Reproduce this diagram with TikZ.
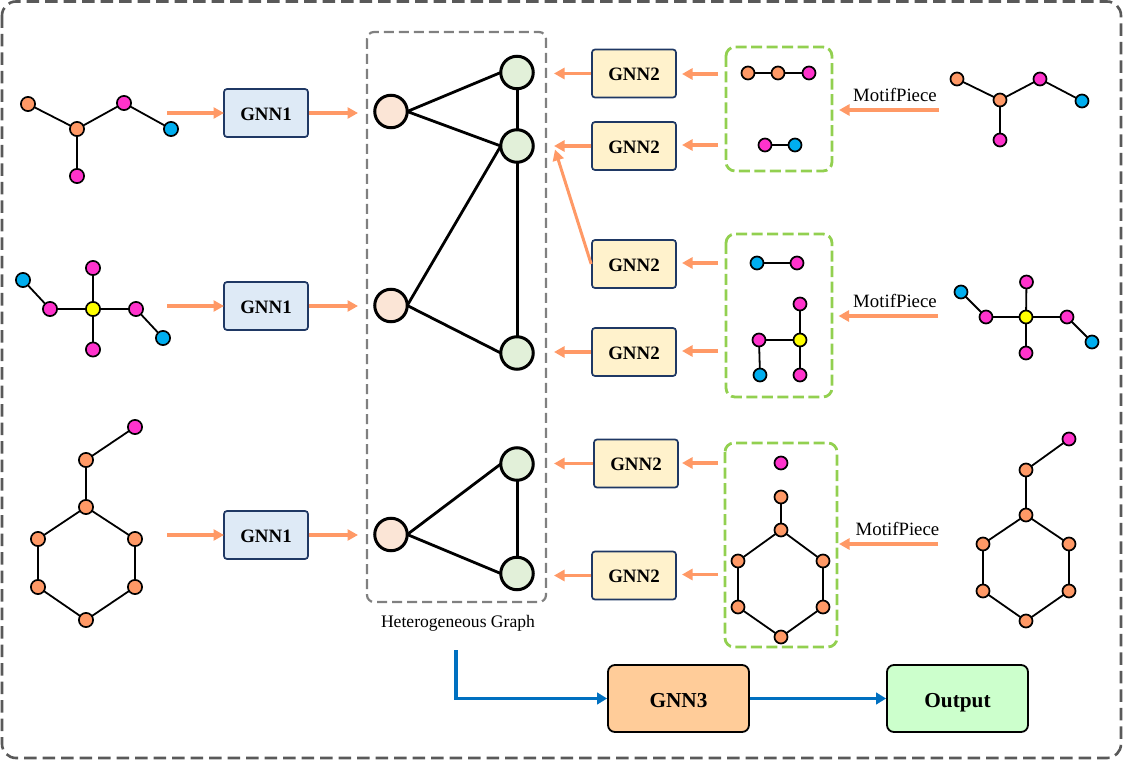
\documentclass[tikz,border=0pt]{standalone}
\usepackage{fontspec}
\setmainfont{Liberation Serif}
\usetikzlibrary{arrows.meta}
\definecolor{aorange}{HTML}{FF9966}
\definecolor{amag}{HTML}{FF33CC}
\definecolor{ablue}{HTML}{00AEEF}
\definecolor{ayel}{HTML}{FFFF00}
\definecolor{boxline}{HTML}{1F3864}
\definecolor{hp}{HTML}{FBE5D6}
\definecolor{hg}{HTML}{E2F0D9}
\definecolor{hb}{HTML}{DEEAF6}
\definecolor{hy}{HTML}{FFF2CC}
\definecolor{bluearrow}{HTML}{0070C0}
\definecolor{motifgreen}{HTML}{92D050}
\definecolor{gthree}{HTML}{FFCC99}
\definecolor{goutput}{HTML}{CCFFCC}
\tikzset{
  atomo/.style={circle,draw=black,line width=1.7pt,minimum size=14.2pt,inner sep=0pt,outer sep=0pt,fill=aorange},
  atomm/.style={atomo,fill=amag},
  atomb/.style={atomo,fill=ablue},
  atomy/.style={atomo,fill=ayel},
  so/.style={atomo,minimum size=13pt},
  sm/.style={atomm,minimum size=13pt},
  sb/.style={atomb,minimum size=13pt},
  sy/.style={atomy,minimum size=13pt},
  bond/.style={draw=black,line width=1.8pt},
  hpink/.style={circle,draw=black,line width=3pt,minimum size=32.5pt,inner sep=0pt,outer sep=0pt,fill=hp},
  hgreen/.style={hpink,fill=hg},
  hedge/.style={draw=black,line width=2.8pt},
  vedge/.style={draw=black,line width=3pt},
  gnnone/.style={draw=boxline,line width=1.7pt,rounded corners=3pt,fill=hb,minimum width=84pt,minimum height=48pt,inner sep=0pt,text height=14.4pt,text depth=0pt,font=\fontsize{18.9pt}{20pt}\selectfont\bfseries},
  gnntwo/.style={gnnone,fill=hy},
  bigbox/.style={draw=black,line width=1.8pt,rounded corners=7pt,minimum width=141pt,minimum height=67pt,inner sep=0pt,text height=17pt,text depth=0pt,font=\fontsize{21.3pt}{23pt}\selectfont\bfseries},
  oarrow/.style={draw=aorange,line width=3.5pt,-{Triangle[length=10.5pt,width=11pt]}},
  oarrowthin/.style={draw=aorange,line width=3pt,-{Triangle[length=11pt,width=11pt]}},
  barrow/.style={draw=bluearrow,line width=3.8pt,-{Triangle[length=10pt,width=11.5pt]}},
  motifbox/.style={draw=motifgreen,line width=2.8pt,dash pattern=on 11pt off 4.5pt,rounded corners=9pt},
  lab/.style={inner sep=0pt,font=\fontsize{18.8pt}{21pt}\selectfont},
}
\begin{document}
\begin{tikzpicture}[x=1pt,y=-1pt]
\useasboundingbox (0,0) rectangle (1125,762);
% frames
\draw[draw=black!65,line width=2.6pt,dash pattern=on 12.5pt off 6pt,rounded corners=14pt] (2,1.5) rectangle (1121,758);
\draw[draw=black!50,line width=2.2pt,dash pattern=on 10pt off 5pt,rounded corners=7pt] (367,32) rectangle (546,602);
\draw[motifbox] (726,47) rectangle (832,171);
\draw[motifbox] (726,234) rectangle (832,397);
\draw[motifbox] (725,443) rectangle (837,647);

% left molecule 1
\node[atomo] (la1) at (28,104) {};
\node[atomo] (la2) at (77,129) {};
\node[atomm] (la3) at (124,103) {};
\node[atomb] (la4) at (171,129) {};
\node[atomm] (la5) at (77,176) {};
\draw[bond] (la1)--(la2) (la2)--(la3) (la3)--(la4) (la2)--(la5);
% left molecule 2
\node[atomy] (lb0) at (93,309) {};
\node[atomb] (lb1) at (23,280) {};
\node[atomm] (lb2) at (50,309) {};
\node[atomm] (lb3) at (93,268) {};
\node[atomm] (lb4) at (136,309) {};
\node[atomb] (lb5) at (163,338) {};
\node[atomm] (lb6) at (93,349.5) {};
\draw[bond] (lb1)--(lb2) (lb2)--(lb0) (lb3)--(lb0) (lb0)--(lb4) (lb4)--(lb5) (lb0)--(lb6);
% left molecule 3
\node[atomm] (lc1) at (135,427) {};
\node[atomo] (lc2) at (86,460) {};
\node[atomo] (lc3) at (86,507) {};
\node[atomo] (lc4) at (38,539) {};
\node[atomo] (lc5) at (135,539) {};
\node[atomo] (lc6) at (38,587) {};
\node[atomo] (lc7) at (135,587) {};
\node[atomo] (lc8) at (86,620) {};
\draw[bond] (lc1)--(lc2) (lc2)--(lc3) (lc3)--(lc4) (lc3)--(lc5) (lc4)--(lc6) (lc5)--(lc7) (lc6)--(lc8) (lc7)--(lc8);

% right molecule 1
\node[so] (ra1) at (957,79) {};
\node[so] (ra2) at (1000,100) {};
\node[sm] (ra3) at (1040,79) {};
\node[sb] (ra4) at (1082,101) {};
\node[sm] (ra5) at (1000,140) {};
\draw[bond] (ra1)--(ra2) (ra2)--(ra3) (ra3)--(ra4) (ra2)--(ra5);
% right molecule 2
\node[sy] (rb0) at (1026,317) {};
\node[sb] (rb1) at (961,292) {};
\node[sm] (rb2) at (986,317) {};
\node[sm] (rb3) at (1026.5,282) {};
\node[sm] (rb4) at (1067,317) {};
\node[sb] (rb5) at (1092,342) {};
\node[sm] (rb6) at (1026,353) {};
\draw[bond] (rb1)--(rb2) (rb2)--(rb0) (rb3)--(rb0) (rb0)--(rb4) (rb4)--(rb5) (rb0)--(rb6);
% right molecule 3
\node[sm] (rc1) at (1069,439) {};
\node[so] (rc2) at (1026,470) {};
\node[so] (rc3) at (1026,515) {};
\node[so] (rc4) at (983,544) {};
\node[so] (rc5) at (1069,544) {};
\node[so] (rc6) at (983,591) {};
\node[so] (rc7) at (1069,591) {};
\node[so] (rc8) at (1026,621) {};
\draw[bond] (rc1)--(rc2) (rc2)--(rc3) (rc3)--(rc4) (rc3)--(rc5) (rc4)--(rc6) (rc5)--(rc7) (rc6)--(rc8) (rc7)--(rc8);

% motifs
\node[so] (ma1) at (748,73) {};
\node[so] (ma2) at (778,73) {};
\node[sm] (ma3) at (809,73) {};
\draw[bond] (ma1)--(ma2) (ma2)--(ma3);
\node[sm] (mb1) at (765,145) {};
\node[sb] (mb2) at (795,145) {};
\draw[bond] (mb1)--(mb2);
\node[sb] (mc1) at (757,263) {};
\node[sm] (mc2) at (797,263) {};
\draw[bond] (mc1)--(mc2);
\node[sm] (md1) at (800,304) {};
\node[sy] (md2) at (800,340) {};
\node[sm] (md3) at (759,340) {};
\node[sb] (md4) at (760,375) {};
\node[sm] (md5) at (800,375) {};
\draw[bond] (md1)--(md2) (md2)--(md3) (md3)--(md4) (md2)--(md5);
\node[sm] (me0) at (781,463) {};
\node[so] (me1) at (781,497) {};
\node[so] (me2) at (781,530) {};
\node[so] (me3) at (738,561) {};
\node[so] (me4) at (823,561) {};
\node[so] (me5) at (738,607) {};
\node[so] (me6) at (823,607) {};
\node[so] (me7) at (781,637) {};
\draw[bond] (me1)--(me2) (me2)--(me3) (me2)--(me4) (me3)--(me5) (me4)--(me6) (me5)--(me7) (me6)--(me7);

% heterogeneous graph
\node[hpink] (p1) at (391,111.5) {};
\node[hpink] (p2) at (391,305.5) {};
\node[hpink] (p3) at (391,534.5) {};
\node[hgreen] (g1) at (517,72.5) {};
\node[hgreen] (g2) at (517,146) {};
\node[hgreen] (g3) at (517,353) {};
\node[hgreen] (g4) at (517,464) {};
\node[hgreen] (g5) at (517,573.5) {};
\draw[vedge] (g1)--(g2) (g2)--(g3) (g4)--(g5);
\draw[hedge] (p1.east)--(g1.west) (p1.east)--(g2.west) (p2.east)--(g2.west) (p2.east)--(g3.west) (p3.east)--(g4.west) (p3.east)--(g5.west);
\node[lab,font=\fontsize{17.6pt}{20pt}\selectfont] (hlab) at (458,623) {Heterogeneous Graph};

% GNN boxes
\node[gnnone] (n1a) at (266,113) {GNN1};
\node[gnnone] (n1b) at (266,306) {GNN1};
\node[gnnone] (n1c) at (266,535) {GNN1};
\node[gnntwo] (n2a) at (634,73.5) {GNN2};
\node[gnntwo] (n2b) at (634,146) {GNN2};
\node[gnntwo] (n2c) at (634,264) {GNN2};
\node[gnntwo] (n2d) at (634,352) {GNN2};
\node[gnntwo] (n2e) at (636,463.5) {GNN2};
\node[gnntwo] (n2f) at (634,575.5) {GNN2};
\node[bigbox,fill=gthree] (n3) at (678.5,698.5) {GNN3};
\node[bigbox,fill=goutput] (out) at (957.5,698.5) {Output};

% free ends
\coordinate (a1s) at (167,113); \coordinate (a1e) at (224,113);
\coordinate (a2s) at (167,306); \coordinate (a2e) at (224,306);
\coordinate (a3s) at (167,535); \coordinate (a3e) at (224,535);
\coordinate (b1e) at (358,113);
\coordinate (b2e) at (358,306);
\coordinate (b3e) at (358,535);
\draw[oarrow] (a1s)--(a1e);
\draw[oarrow] (a2s)--(a2e);
\draw[oarrow] (a3s)--(a3e);
\draw[oarrow] (n1a.east)--(b1e);
\draw[oarrow] (n1b.east)--(b2e);
\draw[oarrow] (n1c.east)--(b3e);
% into hetero graph
\coordinate (c1) at (554,73.5);
\coordinate (c2) at (554,146);
\coordinate (c2b) at (555,149.5);
\coordinate (c4) at (554,352);
\coordinate (c5) at (554,463.5);
\coordinate (c6) at (554,575.5);
\draw[oarrow] (n2a.west)--(c1);
\draw[oarrow] (n2b.west)--(c2);
\draw[oarrowthin] (n2c.west)--(c2b);
\draw[oarrow] (n2d.west)--(c4);
\draw[oarrow] (n2e.west)--(c5);
\draw[oarrow] (n2f.west)--(c6);
% motif to GNN2
\coordinate (d1s) at (718,74);  \coordinate (d1e) at (682,74);
\coordinate (d2s) at (718,145); \coordinate (d2e) at (682,145);
\coordinate (d3s) at (718,263); \coordinate (d3e) at (682,263);
\coordinate (d4s) at (718,351); \coordinate (d4e) at (682,351);
\coordinate (d5s) at (718,463); \coordinate (d5e) at (682,463);
\coordinate (d6s) at (718,574.5); \coordinate (d6e) at (682,574.5);
\foreach \i in {1,...,6}{\draw[oarrow] (d\i s)--(d\i e);}
% MotifPiece
\coordinate (e1s) at (939,110); \coordinate (e1e) at (839,110);
\coordinate (e2s) at (938,316); \coordinate (e2e) at (838.5,316);
\coordinate (e3s) at (938,544); \coordinate (e3e) at (839,544);
\foreach \i in {1,2,3}{\draw[oarrow] (e\i s)--(e\i e);}
\node[lab] (m1) at (895,95) {MotifPiece};
\node[lab] (m2) at (895,301) {MotifPiece};
\node[lab] (m3) at (897.5,529) {MotifPiece};
% blue
\coordinate (f0) at (456,650);
\draw[barrow] (f0)|-(n3.west);
\draw[barrow] (n3.east)--(out.west);
\end{tikzpicture}
\end{document}
